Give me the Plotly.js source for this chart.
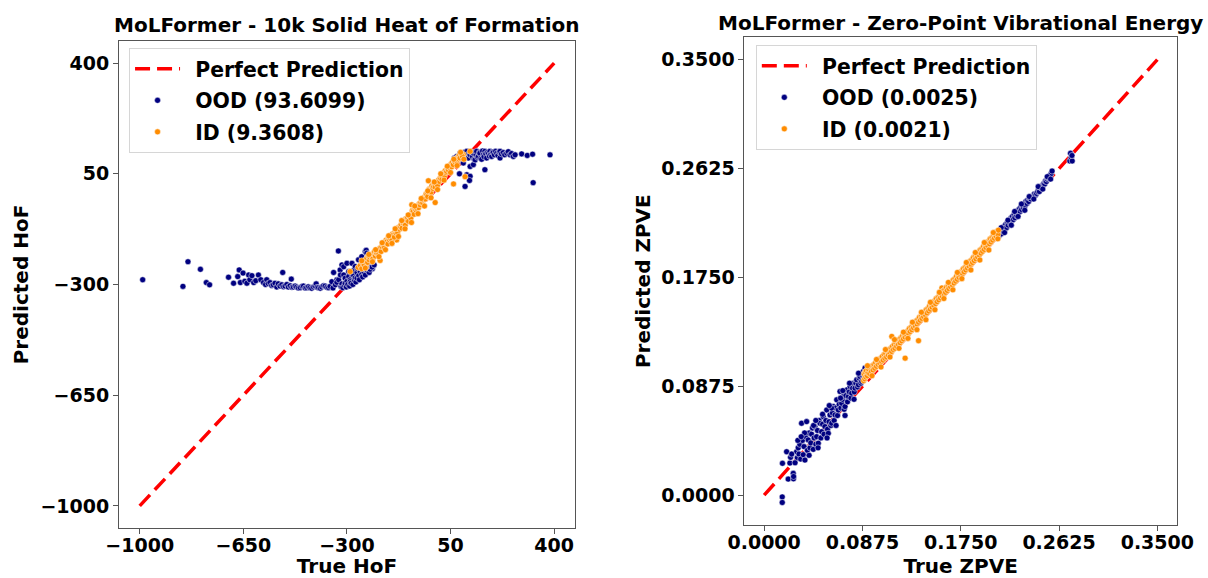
<!DOCTYPE html>
<html>
<head>
<meta charset="utf-8">
<script src="https://cdn.plot.ly/plotly-3.0.1.min.js"></script>
<style>html,body{margin:0;padding:0;background:#fff;}#chart{width:1208px;height:578px;}</style>
</head>
<body>
<div id="chart"></div>
<script>
// ---------- Data: left panel (Heat of Formation) ----------
const hofLineX = [-1000, 400];
const hofLineY = [-1000, 400];
const hofTickVals = [-1000, -650, -300, 50, 400];
const hofTickText = ['\u22121000', '\u2212650', '\u2212300', '50', '400'];

const hofOodX = [
-990,-854,-837,-795,-775,-764,
-700,-683,-669,-664,-660,-651,-645,-638,-632,-628,-621,-615,-608,-599,
-591,-582,-575,-571,-566,-560,-554,-549,-543,-537,-532,-526,-520,-517,
-514,-509,-503,-498,-492,-488,-486,-481,-475,-470,-464,-458,-452,
-447,-441,-436,-430,-425,-419,-413,-408,-404,-401,-396,-390,-385,-379,
-374,-368,-362,-357,-351,-347,-345,-339,-334,-334,-329,-328,-323,-322,
-320,-317,-317,-314,-311,-311,-308,-306,-306,-302,-300,-300,-297,-294,
-294,-291,-289,-289,-286,-283,-283,-280,-278,-277,-275,-272,-272,-270,
-266,-266,-264,-261,-260,-258,-255,-253,-250,-250,-247,-244,-243,-240,
-238,-238,-236,-235,-233,-232,-229,-227,-225,-222,-220,-216,-214,-222,
-215,-208,
60,63,71,75,82,85,88,93,93,98,100,105,105,99,110,112,116,116,116,114,
120,124,127,127,130,133,136,138,141,144,147,149,152,155,158,161,163,166,
166,169,172,175,178,181,183,186,189,192,194,198,202,206,210,214,217,217,
222,228,233,240,245,251,256,262,268,290,309,327,329,386,80
];
const hofOodY = [
-285,-306,-228,-252,-294,-301,
-277,-296,-275,-254,-294,-264,-290,-296,-270,-285,-272,-294,-288,-270,
-285,-294,-300,-285,-297,-294,-303,-301,-296,-308,-298,-305,-301,-262,
-307,-305,-300,-308,-304,-283,-309,-308,-305,-308,-311,-310,-306,
-305,-311,-310,-307,-310,-312,-308,-305,-298,-309,-310,-312,-308,-304,
-305,-309,-310,-306,-291,-311,-262,-301,-285,-293,-194,-285,-254,-270,
-306,-298,-238,-310,-244,-270,-303,-280,-296,-308,-233,-290,-300,-259,
-275,-305,-285,-291,-296,-233,-268,-300,-270,-255,-286,-243,-279,-292,
-280,-262,-250,-222,-272,-285,-259,-240,-212,-268,-276,-243,-260,-250,
-270,-196,-235,-192,-201,-255,-245,-233,-262,-222,-240,-228,-250,-252,
-245,-238,
89,100,105,95,115,108,94,110,84,118,102,121,47,10,100,113,110,73,42,29,
120,104,115,79,96,94,110,121,102,105,117,115,99,96,122,110,104,121,
63,113,100,118,114,106,121,111,105,119,117,110,121,115,108,119,121,100,
113,117,110,115,120,110,114,105,110,113,108,112,22,110,50
];

const hofIdX = [
-289,-244,-235,-188,-132,-81,-25,-2,60,99,116,93,
-262,-255,-250,-247,-242,-240,-236,-233,-230,-228,-225,-222,-219,-216,
-213,-210,-207,-204,-201,-199,-196,-193,-190,-188,-185,-182,-180,-177,
-174,-171,-168,-165,-162,-160,-157,-154,-151,-148,-146,-143,-140,-137,
-134,-132,-129,-126,-123,-120,-117,-114,-112,-109,-106,-103,-101,-98,
-95,-92,-90,-87,-84,-81,-79,-76,-73,-70,-67,-64,-61,-58,-55,-53,-50,
-47,-44,-42,-39,-36,-33,-30,-27,-24,-22,-19,-16,-13,-10,-8,-5,-2,1,3,
6,9,12,15,18,21,24,26,29,32,35,37,40,43,46,48,51,54,56,59,62,65,68,71,
74,77,80,82,86,90,
-250,-238,-226,-214,-203,-192,-181,-170,-159,-148,-137,-126,-115,-104,
-93,-82,-71,-60,-49,-38,-27,-16,-5,6,17,28,39,50,61,72,84,95
];
const hofIdY = [
-259,-233,-245,-224,-159,-48,28,-41,18,41,121,111,
-246,-240,-250,-232,-238,-226,-222,-217,-230,-210,-222,-214,-205,-212,
-220,-203,-196,-210,-200,-201,-190,-205,-188,-185,-196,-180,-172,-174,
-184,-168,-160,-164,-172,-152,-158,-153,-145,-160,-140,-143,-150,-132,
-138,-127,-136,-120,-125,-117,-110,-122,-104,-106,-98,-112,-92,-96,
-88,-100,-82,-80,-90,-74,-66,-69,-78,-60,-64,-59,-50,-57,-44,-48,-40,
-32,-42,-32,-24,-30,-14,-16,-22,-6,2,0,-8,12,4,10,18,8,24,21,
14,30,26,37,44,32,52,48,42,60,54,58,66,62,74,69,80,72,86,79,92,88,96,90,
102,97,108,100,112,105,
-225,-248,-205,-228,-190,-212,-168,-190,-146,-170,-124,-148,-98,-124,
-80,-104,-52,-76,-28,-52,-4,-26,24,0,50,30,74,54,96,76,118,96
];

// ---------- Data: right panel (ZPVE) ----------
const zpveLineX = [0, 0.35];
const zpveLineY = [0, 0.35];
const zpveTickVals = [0, 0.0875, 0.175, 0.2625, 0.35];
const zpveTickText = ['0.0000', '0.0875', '0.1750', '0.2625', '0.3500'];

const zpveOodX = [
0.0161,0.0161,0.0163,0.0200,0.0214,0.0229,0.0235,0.0259,0.0261,0.0262,
0.0289,0.0295,0.0303,0.0310,0.0318,0.0325,0.0333,0.0340,0.0348,0.0355,
0.0363,0.0370,0.0378,0.0385,0.0392,0.0400,0.0408,0.0415,0.0422,0.0430,
0.0437,0.0445,0.0452,0.0460,0.0467,0.0475,0.0482,0.0490,0.0497,0.0505,
0.0512,0.0520,0.0526,0.0533,0.0541,0.0550,0.0557,0.0564,0.0571,0.0578,
0.0586,0.0594,0.0601,0.0608,0.0616,0.0623,0.0631,0.0638,0.0646,0.0653,
0.0660,0.0668,0.0675,0.0683,0.0690,0.0698,0.0705,0.0712,0.0720,0.0728,
0.0735,0.0742,0.0750,0.0758,0.0765,0.0772,0.0779,0.0787,0.0794,0.0802,
0.0809,0.0816,0.0824,0.0831,0.0839,0.0846,0.0854,0.0861,0.0869,0.0876,
0.0883,0.0890,0.0898,
0.0300,0.0360,0.0400,0.0440,0.0480,0.0520,0.0560,0.0600,0.0640,0.0680,
0.0720,0.0760,0.0800,0.0840,0.0460,0.0580,0.0700,0.0330,0.0275,0.0245,
0.2085,0.2090,0.2098,0.2105,0.2112,0.2120,0.2128,0.2135,0.2142,0.2150,
0.2158,0.2165,0.2172,0.2180,0.2188,0.2195,0.2202,0.2210,0.2218,0.2225,
0.2232,0.2240,0.2248,0.2255,0.2262,0.2270,0.2278,0.2285,0.2292,0.2300,
0.2308,0.2315,0.2322,0.2330,0.2338,0.2345,0.2355,0.2365,0.2375,0.2385,
0.2395,0.2405,0.2415,0.2425,0.2435,0.2444,0.2450,0.2458,0.2466,0.2474,
0.2482,0.2490,0.2497,0.2504,0.2512,0.2520,0.2526,0.2533,0.2540,0.2548,
0.2555,0.2563,0.2721,0.2727,0.2733,0.2742,0.2740,
0.2110,0.2140,0.2170,0.2200,0.2230,0.2260,0.2290,0.2320,0.2360,0.2400,
0.2440,0.2480,0.2520,0.2550
];
const zpveOodY = [
-0.0014,-0.0059,0.0256,0.0349,0.0129,0.0258,0.0304,0.0175,0.0131,0.0150,
0.0349,0.0300,0.0380,0.0330,0.0408,0.0290,0.0578,0.0440,0.0325,0.0390,
0.0282,0.0470,0.0591,0.0360,0.0444,0.0500,0.0380,0.0420,0.0490,0.0540,
0.0368,0.0460,0.0550,0.0410,0.0470,0.0520,0.0418,0.0600,0.0578,0.0460,
0.0510,0.0570,0.0631,0.0490,0.0551,0.0600,0.0685,0.0530,0.0497,0.0590,
0.0645,0.0560,0.0578,0.0660,0.0712,0.0600,0.0645,0.0700,0.0766,0.0640,
0.0685,0.0730,0.0833,0.0700,0.0739,0.0770,0.0793,0.0690,0.0712,0.0800,
0.0846,0.0750,0.0793,0.0830,0.0873,0.0780,0.0820,0.0860,0.0900,0.0830,
0.0860,0.0900,0.0927,0.0870,0.0887,0.0940,0.0953,0.0900,0.0914,0.0960,
0.0994,0.0950,0.1021,
0.0440,0.0500,0.0320,0.0560,0.0380,0.0650,0.0460,0.0700,0.0560,0.0780,
0.0640,0.0900,0.0770,0.0980,0.0600,0.0720,0.0840,0.0470,0.0260,0.0330,
0.2075,0.2110,0.2090,0.2130,0.2100,0.2145,0.2120,0.2160,0.2140,0.2175,
0.2150,0.2190,0.2170,0.2205,0.2185,0.2225,0.2200,0.2240,0.2215,0.2255,
0.2230,0.2270,0.2245,0.2285,0.2265,0.2300,0.2280,0.2315,0.2295,0.2330,
0.2310,0.2345,0.2325,0.2360,0.2345,0.2370,0.2360,0.2385,0.2380,0.2400,
0.2395,0.2420,0.2410,0.2425,0.2440,0.2458,0.2440,0.2475,0.2470,0.2485,
0.2495,0.2505,0.2500,0.2525,0.2520,0.2540,0.2550,0.2552,0.2565,0.2575,
0.2585,0.2605,0.2686,0.2748,0.2713,0.2686,0.2730,
0.2150,0.2110,0.2210,0.2170,0.2280,0.2240,0.2340,0.2290,0.2400,0.2380,
0.2480,0.2460,0.2560,0.2540
];

const zpveIdX = [
0.0885,0.0890,0.0895,0.0900,0.0905,0.0910,0.0918,0.0925,0.0932,0.0940,
0.0948,0.0955,0.0962,0.0970,0.0978,0.0985,0.0992,0.1000,0.1008,0.1015,
0.1022,0.1030,0.1038,0.1045,0.1052,0.1060,0.1068,0.1075,0.1082,0.1090,
0.1098,0.1105,0.1112,0.1120,0.1128,0.1136,0.1135,0.1142,0.1150,0.1158,
0.1165,0.1172,0.1180,0.1188,0.1195,0.1202,0.1210,0.1218,0.1225,0.1232,
0.1240,0.1248,0.1255,0.1255,0.1262,0.1270,0.1278,0.1285,0.1292,0.1300,
0.1308,0.1315,0.1322,0.1330,0.1338,0.1345,0.1352,0.1360,0.1368,0.1374,
0.1375,0.1382,0.1390,0.1398,0.1405,0.1412,0.1420,0.1428,0.1435,0.1442,
0.1450,0.1458,0.1465,0.1472,0.1480,0.1488,0.1495,0.1502,0.1510,0.1518,
0.1525,0.1532,0.1540,0.1548,0.1555,0.1562,0.1570,0.1578,0.1582,0.1585,
0.1592,0.1600,0.1608,0.1615,0.1622,0.1630,0.1638,0.1645,0.1652,0.1660,
0.1668,0.1675,0.1682,0.1690,0.1698,0.1705,0.1712,0.1720,0.1728,0.1735,
0.1742,0.1750,0.1758,0.1765,0.1772,0.1780,0.1788,0.1795,0.1802,0.1810,
0.1818,0.1825,0.1832,0.1840,0.1848,0.1855,0.1862,0.1870,0.1878,0.1885,
0.1892,0.1900,0.1908,0.1915,0.1922,0.1930,0.1938,0.1945,0.1952,0.1960,
0.1968,0.1975,0.1982,0.1990,0.1998,0.2005,0.2012,0.2020,0.2028,0.2035,
0.2042,0.2050,0.2058,0.2065,0.2072,0.2080,0.2085,
0.0920,0.0960,0.1000,0.1040,0.1080,0.1120,0.1160,0.1200,0.1240,0.1280,
0.1320,0.1360,0.1400,0.1440,0.1480,0.1520,0.1560,0.1600,0.1640,0.1680,
0.1720,0.1760,0.1800,0.1840,0.1880,0.1920,0.1960,0.2000,0.2040,0.2080
];
const zpveIdY = [
0.0920,0.0975,0.0935,0.0990,0.0950,0.1000,0.0960,0.0985,0.1010,0.0975,
0.1020,0.0995,0.1040,0.1005,0.1050,0.1020,0.1065,0.1035,0.1080,0.1050,
0.1090,0.1060,0.1100,0.1075,0.1115,0.1085,0.1130,0.1100,0.1140,0.1110,
0.1155,0.1125,0.1170,0.1140,0.1180,0.1276,0.1155,0.1195,0.1170,0.1210,
0.1180,0.1225,0.1195,0.1235,0.1210,0.1250,0.1225,0.1265,0.1240,0.1280,
0.1255,0.1290,0.1101,0.1270,0.1310,0.1285,0.1320,0.1300,0.1340,0.1315,
0.1350,0.1330,0.1370,0.1345,0.1380,0.1360,0.1400,0.1375,0.1410,0.1241,
0.1390,0.1430,0.1405,0.1440,0.1420,0.1460,0.1435,0.1470,0.1450,0.1490,
0.1465,0.1500,0.1480,0.1520,0.1495,0.1530,0.1510,0.1550,0.1525,0.1560,
0.1540,0.1580,0.1555,0.1590,0.1570,0.1610,0.1585,0.1620,0.1665,0.1600,
0.1640,0.1615,0.1650,0.1630,0.1670,0.1645,0.1680,0.1660,0.1700,0.1675,
0.1710,0.1690,0.1730,0.1705,0.1740,0.1720,0.1760,0.1735,0.1770,0.1750,
0.1790,0.1765,0.1800,0.1780,0.1820,0.1795,0.1830,0.1810,0.1850,0.1825,
0.1860,0.1840,0.1880,0.1855,0.1890,0.1870,0.1910,0.1885,0.1920,0.1900,
0.1940,0.1915,0.1950,0.1930,0.1970,0.1945,0.1980,0.1960,0.2000,0.1975,
0.2010,0.1990,0.2030,0.2005,0.2040,0.2020,0.2060,0.2035,0.2070,0.2050,
0.2090,0.2065,0.2100,0.2080,0.2120,0.2095,0.2130,
0.1040,0.0960,0.1090,0.1030,0.1170,0.1110,0.1250,0.1180,0.1310,0.1260,
0.1390,0.1330,0.1470,0.1410,0.1550,0.1490,0.1630,0.1580,0.1710,0.1650,
0.1790,0.1740,0.1870,0.1810,0.1950,0.1890,0.2030,0.1970,0.2110,0.2060
];

// ---------- Styles ----------
const FONT = 'DejaVu Sans, Verdana, sans-serif';
const NAVY = '#000080';
const ORANGE = '#ff8c00';
const PAD = '\u2002';
const markerStyle = (c) => ({color: c, size: 6, line: {color: 'white', width: 0.5}});
const lineStyle = {color: 'red', width: 3.5, dash: '15px,7px'};

const traces = [
  {x: hofLineX, y: hofLineY, type: 'scatter', mode: 'lines', name: PAD + 'Perfect Prediction',
   line: lineStyle, xaxis: 'x', yaxis: 'y', legend: 'legend', legendgroup: 'a'},
  {x: hofOodX, y: hofOodY, type: 'scatter', mode: 'markers', name: PAD + 'OOD (93.6099)',
   marker: markerStyle(NAVY), xaxis: 'x', yaxis: 'y', legend: 'legend', legendgroup: 'b'},
  {x: hofIdX, y: hofIdY, type: 'scatter', mode: 'markers', name: PAD + 'ID (9.3608)',
   marker: markerStyle(ORANGE), xaxis: 'x', yaxis: 'y', legend: 'legend', legendgroup: 'c'},
  {x: zpveLineX, y: zpveLineY, type: 'scatter', mode: 'lines', name: PAD + 'Perfect Prediction',
   line: lineStyle, xaxis: 'x2', yaxis: 'y2', legend: 'legend2', legendgroup: 'd'},
  {x: zpveOodX, y: zpveOodY, type: 'scatter', mode: 'markers', name: PAD + 'OOD (0.0025)',
   marker: markerStyle(NAVY), xaxis: 'x2', yaxis: 'y2', legend: 'legend2', legendgroup: 'e'},
  {x: zpveIdX, y: zpveIdY, type: 'scatter', mode: 'markers', name: PAD + 'ID (0.0021)',
   marker: markerStyle(ORANGE), xaxis: 'x2', yaxis: 'y2', legend: 'legend2', legendgroup: 'f'}
];

const tickFont = {family: FONT, size: 19, weight: 'bold', color: '#000'};
const titleFont = {family: FONT, size: 20, weight: 'bold', color: '#000'};
const axisBase = {
  showgrid: false, zeroline: false, showline: true, mirror: true,
  linecolor: '#555', linewidth: 1, ticks: 'outside', ticklen: 5, tickwidth: 1,
  tickcolor: '#555', tickfont: tickFont, tickmode: 'array', automargin: false
};
const legendBase = {
  xanchor: 'left', yanchor: 'top', bgcolor: 'rgba(255,255,255,0.8)',
  bordercolor: '#d6d6d6', borderwidth: 1, font: {family: FONT, size: 20.4, weight: 'bold', color: '#000'},
  itemwidth: 45, tracegroupgap: 2
};

const layout = {
  width: 1208, height: 578,
  margin: {l: 119, r: 31, t: 37, b: 50},
  paper_bgcolor: 'white', plot_bgcolor: 'white',
  showlegend: true,
  xaxis: Object.assign({}, axisBase, {domain: [0, 0.4309], range: [-1070, 470], anchor: 'y',
    tickvals: hofTickVals, ticktext: hofTickText, ticklabelstandoff: -5,
    title: {text: 'True HoF', font: titleFont, standoff: 10}}),
  yaxis: Object.assign({}, axisBase, {domain: [0, 0.9919], range: [-1070, 470], anchor: 'x',
    tickvals: hofTickVals, ticktext: hofTickText,
    title: {text: 'Predicted HoF', font: titleFont, standoff: 6}}),
  xaxis2: Object.assign({}, axisBase, {domain: [0.5912, 1], range: [-0.0175, 0.3675], anchor: 'y2',
    tickvals: zpveTickVals, ticktext: zpveTickText, ticklabelstandoff: -5,
    title: {text: 'True ZPVE', font: titleFont, standoff: 10}}),
  yaxis2: Object.assign({}, axisBase, {domain: [0.0061, 0.9994], range: [-0.024, 0.368], anchor: 'x2',
    tickvals: zpveTickVals, ticktext: zpveTickText,
    title: {text: 'Predicted ZPVE', font: titleFont, standoff: 5}}),
  legend: Object.assign({}, legendBase, {x: 0.0095, y: 0.9775}),
  legend2: Object.assign({}, legendBase, {x: 0.6019, y: 0.9836}),
  annotations: [
    {text: 'MoLFormer - 10k Solid Heat of Formation', xref: 'paper', yref: 'paper',
     x: 0.2154, y: 1.0244, xanchor: 'center', yanchor: 'middle', showarrow: false, font: titleFont},
    {text: 'MoLFormer - Zero-Point Vibrational Energy', xref: 'paper', yref: 'paper',
     x: 0.7956, y: 1.0285, xanchor: 'center', yanchor: 'middle', showarrow: false, font: titleFont}
  ]
};

Plotly.newPlot('chart', traces, layout, {displayModeBar: false, staticPlot: true});
</script>
</body>
</html>
